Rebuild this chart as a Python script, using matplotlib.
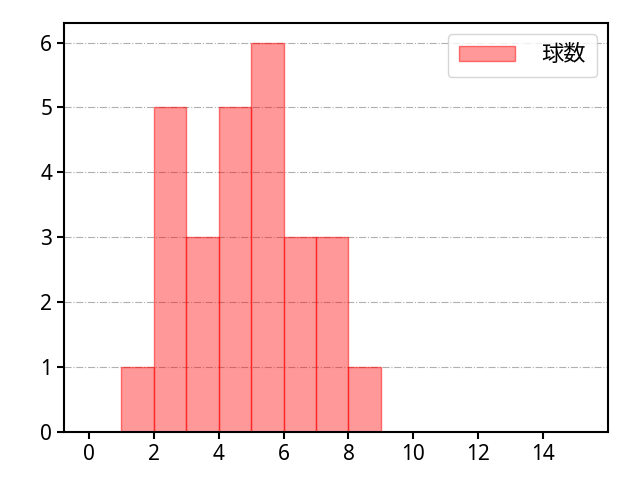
import numpy as np
import matplotlib
matplotlib.use('Agg')
import matplotlib.pyplot as plt

plt.rcParams['font.family'] = ['Noto Sans', 'Noto Sans CJK JP', 'DejaVu Sans']

# Histogram bins (edges) and counts
bin_edges = [1, 2, 3, 4, 5, 6, 7, 8, 9]
counts = [1, 5, 3, 5, 6, 3, 3, 1]
label = '球数'

fig = plt.figure(figsize=(6.4, 4.8), dpi=100)
ax = fig.add_axes([0.1, 0.1, 0.85, 0.852])
ax.bar(bin_edges[:-1], counts, width=1, align='edge',
       color=(1, 0, 0, 0.4), edgecolor=(1, 0, 0, 0.5), linewidth=1,
       label=label, zorder=2)

ax.set_xlim(-0.77, 16.0)
ax.set_ylim(0, 6.3)
ax.set_xticks(np.arange(0, 15, 2))
ax.set_yticks(np.arange(0, 7, 1))
ax.tick_params(labelsize=15, width=1.5, length=5)
for s in ax.spines.values():
    s.set_linewidth(1.5)
ax.grid(axis='y', linestyle='-.', color='#b0b0b0', zorder=0)
ax.set_axisbelow(True)
ax.legend(loc='upper right', fontsize=16, handlelength=2.5, borderpad=0.5,
          handletextpad=1.2)

fig.savefig('out.png')
